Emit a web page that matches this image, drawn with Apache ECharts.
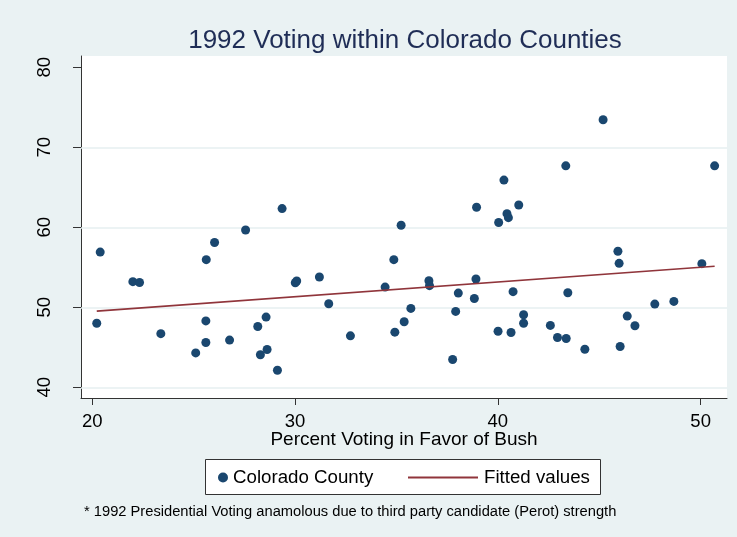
<!DOCTYPE html>
<html>
<head>
<meta charset="utf-8">
<script src="https://cdn.jsdelivr.net/npm/echarts@6/dist/echarts.min.js"></script>
<style>
html,body{margin:0;padding:0;background:#EAF2F3;}
#chart{width:737px;height:537px;}
</style>
</head>
<body>
<div id="chart"></div>
<script>
// Percent voting for Bush (x) and y-variable per county
const countyX = [20.39,20.22,22.0,22.33,23.38,25.1,25.62,26.03,25.6,25.6,26.77,27.56,28.16,28.57,28.29,28.62,29.13,29.36,30.01,30.08,
  31.2,31.66,32.73,34.44,34.87,35.23,34.92,35.38,35.71,36.6,36.63,37.77,37.92,38.05,38.95,38.92,38.84,40.01,40.04,40.3,40.45,40.52,40.65,40.75,41.03,
  41.27,41.27,42.59,42.94,43.37,43.35,43.45,44.29,45.19,45.92,45.98,46.03,46.38,46.76,47.74,48.68,50.06,50.69];
const countyY = [56.9,48.0,53.2,53.1,46.7,44.3,55.95,58.1,48.3,45.6,45.9,59.66,47.6,48.77,44.06,44.72,42.13,62.34,53.07,53.28,
  53.78,50.44,46.43,52.52,55.95,60.25,46.89,48.19,49.86,53.32,52.7,43.47,49.48,51.77,62.5,53.53,51.1,47.0,60.6,65.9,61.7,61.2,46.85,51.95,62.78,
  49.06,48.0,47.73,46.22,46.1,67.68,51.82,44.76,73.44,57.0,55.49,45.1,48.9,47.69,50.4,50.73,55.45,67.68];
// Fitted values line endpoints
const fitX = [20.22, 50.69];
const fitY = [49.52, 55.12];
// Axis ticks
const xTicks = [20, 30, 40, 50];
const yTicks = [40, 50, 60, 70, 80];
const yGrid = [40, 50, 60, 70];

const scatterData = countyX.map((x, i) => [x, countyY[i]]);
const fitData = fitX.map((x, i) => [x, fitY[i]]);

const chart = echarts.init(document.getElementById('chart'), null, {renderer: 'canvas'});
const FONT = '"Liberation Sans", Arial, Helvetica, sans-serif';
chart.setOption({
  backgroundColor: '#EAF2F3',
  animation: false,
  textStyle: {fontFamily: FONT},
  title: [{
    text: '1992 Voting within Colorado Counties',
    left: 400, top: 23, textAlign: 'center',
    textStyle: {fontFamily: FONT, fontSize: 26, fontWeight: 'normal', color: '#1f2d56'}
  }, {
    text: '* 1992 Presidential Voting anamolous due to third party candidate (Perot) strength',
    left: 79, top: 499,
    textStyle: {fontFamily: FONT, fontSize: 14.7, fontWeight: 'normal', color: '#000'}
  }],
  graphic: [{
    type: 'rect', z: 0,
    shape: {x: 205.5, y: 459.5, width: 395, height: 35},
    style: {fill: '#fff', stroke: '#333', lineWidth: 1}
  }],
  legend: [{
    data: [{name: 'Colorado County', icon: 'circle'}],
    left: 213, top: 463, itemWidth: 10, itemHeight: 10, z: 10,
    textStyle: {fontFamily: FONT, fontSize: 18.7, color: '#000'}
  }, {
    data: [{name: 'Fitted values', icon: 'rect'}],
    left: 403, top: 463, itemWidth: 70, itemHeight: 2, z: 10,
    textStyle: {fontFamily: FONT, fontSize: 18.7, color: '#000', padding: [0, 0, 0, 1]}
  }],
  grid: {left: 81, right: 10, top: 56, bottom: 139, show: true, backgroundColor: '#fff', borderWidth: 0},
  xAxis: {
    type: 'value', min: 19.443, max: 51.30,
    name: 'Percent Voting in Favor of Bush', nameLocation: 'middle', nameGap: 32,
    nameMoveOverlap: false,
    nameTextStyle: {fontFamily: FONT, fontSize: 19, color: '#000'},
    axisLine: {show: true, onZero: false, lineStyle: {color: '#333', width: 1}},
    axisTick: {show: true, length: 7, customValues: xTicks, lineStyle: {color: '#333'}},
    axisLabel: {customValues: xTicks, margin: 14, fontFamily: FONT, fontSize: 18.5, color: '#000'},
    splitLine: {show: false}
  },
  yAxis: {
    type: 'value', min: 38.66, max: 81.41,
    axisLine: {show: true, onZero: false, lineStyle: {color: '#333', width: 1}},
    axisTick: {show: true, length: 8, customValues: yTicks, lineStyle: {color: '#333'}},
    axisLabel: {customValues: yTicks, rotate: 90, margin: 27, fontFamily: FONT, fontSize: 18.5, color: '#000'},
    splitLine: {show: false}
  },
  series: [{
    name: 'grid', type: 'line', data: [], z: 1, silent: true,
    markLine: {
      silent: true, z: 1, symbol: ['none', 'none'], label: {show: false},
      lineStyle: {color: '#E6EFF0', width: 1.5, type: 'solid'},
      data: yGrid.map(v => ({yAxis: v}))
    }
  }, {
    name: 'Colorado County', type: 'scatter', data: scatterData, z: 3,
    symbol: 'circle', symbolSize: 9,
    itemStyle: {color: '#1a476f', opacity: 1}
  }, {
    name: 'Fitted values', type: 'line', data: fitData, z: 4,
    showSymbol: false, symbol: 'none',
    lineStyle: {color: '#90353b', width: 1.6},
    itemStyle: {color: '#90353b'}
  }]
});
</script>
</body>
</html>
